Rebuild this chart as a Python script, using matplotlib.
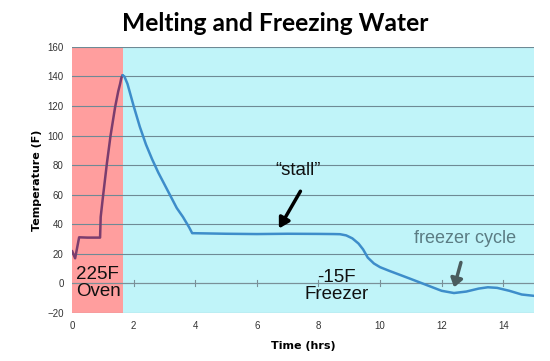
import matplotlib
matplotlib.use("Agg")
import matplotlib.pyplot as plt
import numpy as np

# temperature log
oven_t = [0.0, 0.1, 0.23, 0.5, 0.91, 0.93, 1.0, 1.13, 1.25, 1.4, 1.5, 1.56, 1.6, 1.64]
oven_temp = [22, 17, 31.2, 31, 31, 45, 58, 81, 100, 119.5, 130, 135, 139, 140.9]
freezer_t = [1.64, 1.7, 1.8, 2.0, 2.2, 2.4, 2.6, 2.8, 3.0, 3.2, 3.4, 3.6, 3.8, 3.9,
             5.0, 6.0, 7.0, 8.0, 8.5, 8.7, 8.9, 9.1, 9.3, 9.45, 9.6, 9.8, 10.0,
             10.3, 10.67, 11.0, 11.5, 12.0, 12.4, 12.8, 13.2, 13.5, 13.8, 14.2, 14.6, 15.0]
freezer_temp = [140.9, 140, 135, 120, 106, 94, 84, 75, 67, 59, 51, 45, 38, 34,
                33.6, 33.4, 33.6, 33.5, 33.4, 33.3, 32.5, 30.5, 27, 23, 17.5, 13.5, 11,
                8.5, 5.6, 3, -1, -5, -6.5, -5.5, -3.5, -2.6, -3, -5, -7.5, -8.4]
oven_end = 1.64
x_max = 15
y_ticks = [-20, 0, 20, 40, 60, 80, 100, 120, 140, 160]
x_ticks = [0, 2, 4, 6, 8, 10, 12, 14]

fig = plt.figure(figsize=(5.5, 3.61), dpi=100)
ax = fig.add_axes([0.131, 0.133, 0.84, 0.737])

ax.axvspan(0, oven_end, color="#FF9E9E", lw=0, zorder=0)
ax.axvspan(oven_end, x_max, color="#C0F4F9", lw=0, zorder=0)

for y in y_ticks:
    ax.axhline(y, color="#6E8A95", lw=0.8, zorder=1)
# x axis line sits at 0 with its ticks
ax.axhline(0, color="#7A9098", lw=0.8, zorder=1)
for x in x_ticks[1:]:
    ax.plot([x, x], [-2, 2], color="#7A9098", lw=0.8, zorder=1)

ax.plot(oven_t, oven_temp, color="#7B3D6E", lw=1.8, zorder=3,
        solid_capstyle="round", solid_joinstyle="round")
ax.plot(freezer_t, freezer_temp, color="#3D8DCA", lw=1.8, zorder=3,
        solid_capstyle="round", solid_joinstyle="round")

ax.set_xlim(0, x_max)
ax.set_ylim(-20, 160)
ax.set_xticks(x_ticks)
ax.set_yticks(y_ticks)
ax.tick_params(length=0, labelsize=7, colors="#333333", pad=6)
for lbl in ax.get_xticklabels() + ax.get_yticklabels():
    lbl.set_family("Liberation Sans")
for s in ax.spines.values():
    s.set_visible(False)

ax.set_xlabel("Time (hrs)", fontsize=8, fontweight="bold", labelpad=7)
ax.set_ylabel("Temperature (F)", fontsize=8, fontweight="bold", labelpad=4)

fig.text(0.5, 0.935, "Melting and Freezing Water", ha="center", va="center",
         fontsize=17.7, fontweight="bold", family="Lato")

ax.text(0.12, 0.5, "225F\nOven", fontsize=13.5, va="center", ha="left",
        linespacing=1.0, color="#111111", family="Liberation Sans")
ax.text(8.6, -1.5, "-15F\nFreezer", fontsize=13.5, va="center", ha="center",
        linespacing=1.0, color="#111111", family="Liberation Sans")
ax.text(7.35, 76.5, "\u201cstall\u201d", fontsize=13.5, ha="center", va="center",
        color="#111111", family="Liberation Sans")
ax.annotate("", xy=(6.67, 35.5), xytext=(7.46, 64),
            arrowprops=dict(arrowstyle="-|>,head_width=0.35,head_length=0.6",
                            color="black", lw=2.5))
ax.text(12.75, 30.5, "freezer cycle", fontsize=13, ha="center", va="center",
        color="#5B7C83", family="Liberation Sans")
ax.annotate("", xy=(12.38, -4.5), xytext=(12.65, 16),
            arrowprops=dict(arrowstyle="-|>,head_width=0.35,head_length=0.5",
                            color="#4A5C5E", lw=2.5))

fig.savefig("out.png", dpi=100)
